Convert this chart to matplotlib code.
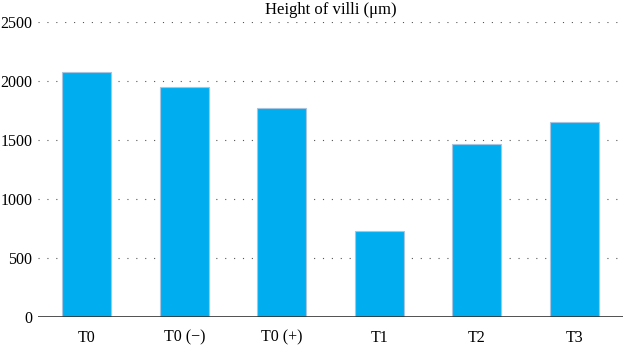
import numpy as np
import matplotlib.pyplot as plt

plt.rcParams["font.family"] = "Liberation Serif"
plt.rcParams["font.size"] = 11.5

groups = ["T0", "T0 (\u2212)", "T0 (+)", "T1", "T2", "T3"]
villi_height = [2080, 1945, 1775, 725, 1465, 1650]
y_ticks = [0, 500, 1000, 1500, 2000, 2500]

fig = plt.figure(figsize=(6.23, 3.48), dpi=100)
ax = fig.add_axes([38 / 623, 31 / 348, 585 / 623, 295 / 348])

x = np.arange(len(groups))
ax.bar(x, villi_height, width=0.5, color="#00aeef", edgecolor="#a9c4e0",
       linewidth=0.8, zorder=2)

for y in y_ticks[1:]:
    ax.axhline(y, color="#555555", linestyle=(0, (1, 7)), linewidth=0.8, zorder=1)
ax.axhline(0, color="#333333", linewidth=1.2, zorder=3)

ax.set_xlim(-0.5, len(groups) - 0.5)
ax.set_ylim(0, 2500)
ax.set_xticks(x)
ax.set_xticklabels(groups)
ax.set_yticks(y_ticks)
ax.tick_params(length=0)
ax.tick_params(axis="y", pad=4)
ax.tick_params(axis="x", pad=9)
for s in ax.spines.values():
    s.set_visible(False)

ax.set_title("Height of villi (\u03bcm)", fontsize=12, pad=6)

fig.savefig("out.png", dpi=100)
